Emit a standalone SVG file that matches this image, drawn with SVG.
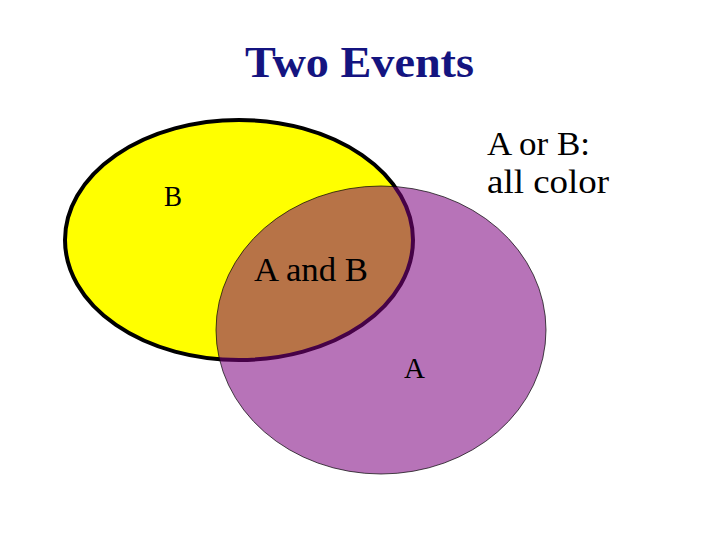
<svg xmlns="http://www.w3.org/2000/svg" width="720" height="540" viewBox="0 0 720 540">
<style>
.lbl{font-family:"Liberation Serif","DejaVu Serif",serif;fill:#000}
.title{font-family:"Liberation Serif","DejaVu Serif",serif;font-size:44px;font-weight:bold;fill:#141480}
</style>
<rect width="720" height="540" fill="#fff"/>
<text class="title" x="245" y="77" textLength="229" lengthAdjust="spacingAndGlyphs">Two Events</text>
<g id="eventB">
<ellipse cx="239" cy="240" rx="174" ry="120" fill="#ffff00" stroke="#000" stroke-width="4"/>
</g>
<g id="eventA">
<ellipse cx="381" cy="330" rx="165" ry="144" fill="rgb(126,4,127)" fill-opacity="0.557" stroke="#000" stroke-width="1" stroke-opacity="0.7"/>
</g>
<g id="connectors"></g>
<g id="labels">
<text class="lbl" x="164" y="206" font-size="30" textLength="18" lengthAdjust="spacingAndGlyphs">B</text>
<text class="lbl" x="254" y="281" font-size="34" textLength="114" lengthAdjust="spacingAndGlyphs">A and B</text>
<text class="lbl" x="404" y="378" font-size="29" textLength="21" lengthAdjust="spacingAndGlyphs">A</text>
<text class="lbl" x="487" y="155" font-size="33" textLength="103" lengthAdjust="spacingAndGlyphs">A or B:</text>
<text class="lbl" x="487" y="193" font-size="33" textLength="122" lengthAdjust="spacingAndGlyphs">all color</text>
</g>
</svg>
